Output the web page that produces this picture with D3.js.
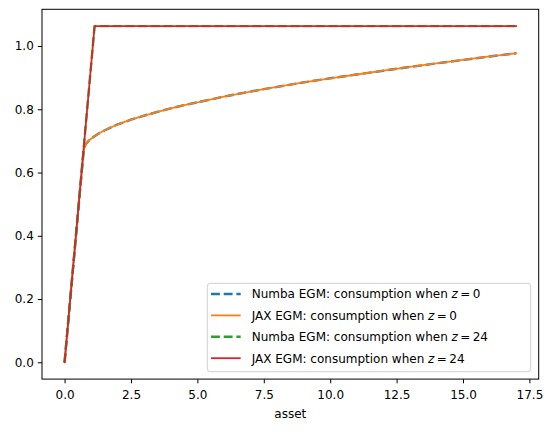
<!DOCTYPE html>
<html><head><meta charset="utf-8">
<script src="https://cdn.jsdelivr.net/npm/d3@7"></script>
<style>
html,body{margin:0;padding:0;background:#fff;}
svg{display:block;font-family:"DejaVu Sans",sans-serif;}
</style></head>
<body>
<svg id="c" width="552" height="432"></svg>
<script>
const assetZ0 = [0, 0.72, 0.74, 0.76, 0.82, 0.9, 1.0, 1.13, 1.3, 1.5, 1.75, 2.0, 2.5, 3.0, 3.5, 4.0, 4.5, 5.0, 6.0, 7.0, 8.0, 9.0, 10.0, 11.0, 12.0, 13.0, 14.0, 15.0, 16.0, 17.0];
const consZ0 = [0, 0.670, 0.677, 0.683, 0.692, 0.700, 0.707, 0.715, 0.724, 0.733, 0.743, 0.752, 0.767, 0.780, 0.792, 0.803, 0.813, 0.822, 0.840, 0.856, 0.871, 0.885, 0.898, 0.910, 0.922, 0.934, 0.945, 0.956, 0.967, 0.977];
const assetZ24 = [0, 0.72, 1.13, 17.0];
const consZ24 = [0, 0.678, 1.063, 1.063];
const xTicks = [0, 2.5, 5, 7.5, 10, 12.5, 15, 17.5];
const yTicks = [0, 0.2, 0.4, 0.6, 0.8, 1.0];
const seriesNames = ["Numba EGM: consumption when ", "JAX EGM: consumption when ", "Numba EGM: consumption when ", "JAX EGM: consumption when "];
const seriesZ = ["0", "0", "24", "24"];
const seriesColors = ["#1f77b4", "#ff7f0e", "#2ca02c", "#d62728"];
const seriesDashed = [true, false, true, false];

const seriesX = [assetZ0, assetZ0, assetZ24, assetZ24];
const seriesY = [consZ0, consZ0, consZ24, consZ24];

const L = 42, R = 538.7, T = 9.3, B = 379.1;
const svg = d3.select("#c");
const xmin = 0, xmax = d3.max(assetZ0);
const ymin = 0, ymax = d3.max(consZ24);
const xm = (xmax - xmin) * 0.05, ym = (ymax - ymin) * 0.05;
const x = d3.scaleLinear().domain([xmin - xm, xmax + xm]).range([L, R]);
const y = d3.scaleLinear().domain([ymin - ym, ymax + ym]).range([B, T]);

const g = svg.append("g");
svg.append("clipPath").attr("id","clp").append("rect")
  .attr("x", L).attr("y", T).attr("width", R - L).attr("height", B - T);

const plot = g.append("g").attr("clip-path","url(#clp)");
seriesY.forEach((arr, k) => {
  const xs = seriesX[k];
  const line = d3.line().x((d,i)=>x(xs[i])).y(d=>y(d)).curve(d3.curveLinear);
  plot.append("path").attr("d", line(arr)).attr("fill","none")
    .attr("stroke", seriesColors[k])
    .attr("stroke-width", seriesDashed[k] ? 2.4 : 1.8)
    .attr("stroke-dasharray", seriesDashed[k] ? "8.9,3.8" : null)
    .attr("stroke-linecap", seriesDashed[k] ? "butt" : "square")
    .attr("stroke-linejoin","round");
});

// axes
const xAxis = d3.axisBottom(x).tickValues(xTicks).tickFormat(d3.format(".1f")).tickSizeOuter(0).tickSize(4.2).tickPadding(4);
const yAxis = d3.axisLeft(y).tickValues(yTicks).tickFormat(d3.format(".1f")).tickSizeOuter(0).tickSize(4.2).tickPadding(4);
const gx = g.append("g").attr("transform",`translate(0,${B})`).call(xAxis);
const gy = g.append("g").attr("transform",`translate(${L},0)`).call(yAxis);
[gx, gy].forEach(a => {
  a.select(".domain").remove();
  a.selectAll(".tick line").attr("stroke","#000").attr("stroke-width",1);
  a.selectAll(".tick text").attr("fill","#000").attr("font-size","12px").attr("font-family","DejaVu Sans");
});
gx.selectAll(".tick text").attr("dy","0.95em");
g.append("rect").attr("x",L).attr("y",T).attr("width",R-L).attr("height",B-T)
  .attr("fill","none").attr("stroke","#000").attr("stroke-width",1);

g.append("text").attr("x",(L+R)/2).attr("y",418).attr("text-anchor","middle")
  .attr("font-size","12px").attr("fill","#000").text("asset");

// legend
const lg = g.append("g");
lg.append("rect").attr("x",207.3).attr("y",283.3).attr("width",530.7-207.3).attr("height",371.7-283.3)
  .attr("rx",3).attr("fill","#fff").attr("fill-opacity",0.8).attr("stroke","#d0d0d0").attr("stroke-width",1);
const rowY = [294, 315.4, 336.8, 358.2];
seriesNames.forEach((nm, k) => {
  lg.append("line").attr("x1",211).attr("x2",240.7).attr("y1",rowY[k]).attr("y2",rowY[k])
    .attr("stroke",seriesColors[k]).attr("stroke-width",seriesDashed[k] ? 2.4 : 1.8)
    .attr("stroke-dasharray", seriesDashed[k] ? "8.9,3.8" : null);
  const t = lg.append("text").attr("x",251.7).attr("y",rowY[k]+4.3).attr("font-size","12px").attr("fill","#000");
  t.append("tspan").text(nm);
  t.append("tspan").attr("font-style","italic").text("z");
  t.append("tspan").text("\u2009=\u2009" + seriesZ[k]);
});
</script>
</body></html>
